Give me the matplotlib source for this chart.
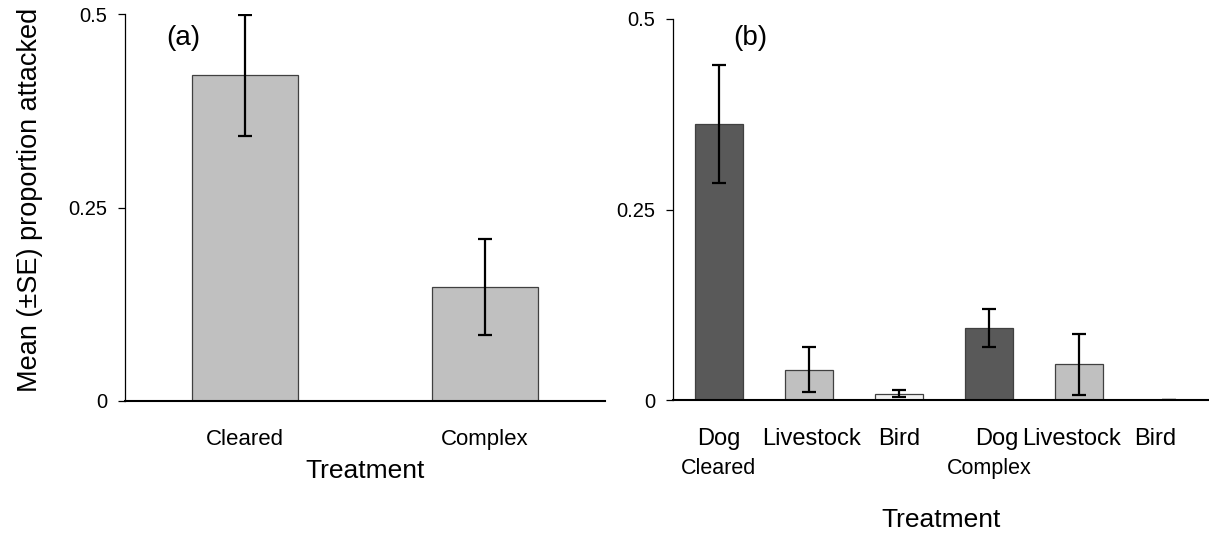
import matplotlib
matplotlib.use("Agg")
import matplotlib.pyplot as plt

plt.rcParams['font.family'] = ['Liberation Sans', 'DejaVu Sans']

# ---- panel (a) data ----
treat_a = ['Cleared', 'Complex']
mean_a = [0.421, 0.147]
se_a = [0.078, 0.062]

# ---- panel (b) data ----
pred_b = ['Dog', 'Livestock', 'Bird', 'Dog', 'Livestock', 'Bird']
group_b = ['Cleared', 'Complex']
mean_b = [0.362, 0.040, 0.0085, 0.095, 0.047, 0.0]
se_b = [0.077, 0.029, 0.0045, 0.025, 0.040, 0.0]
color_b = ['#595959', '#c0c0c0', '#f2f2f2', '#595959', '#c0c0c0', '#f2f2f2']
yticks = [0, 0.25, 0.5]
ytick_labels = ['0', '0.25', '0.5']

W, H = 1209, 537
fig = plt.figure(figsize=(W / 100, H / 100), dpi=100)

def px_axes(x0, x1, ytop, ybot):
    return fig.add_axes([x0 / W, 1 - ybot / H, (x1 - x0) / W, (ybot - ytop) / H])

def style(ax):
    ax.spines['top'].set_visible(False)
    ax.spines['right'].set_visible(False)
    ax.spines['left'].set_linewidth(0.9)
    ax.spines['bottom'].set_linewidth(1.5)
    ax.set_ylim(0, 0.5)
    ax.set_yticks(yticks)
    ax.set_yticklabels(ytick_labels, fontsize=14.5)
    ax.tick_params(axis='y', direction='out', length=5, width=0.9, pad=8)
    ax.tick_params(axis='x', length=0, pad=20)

err_kw = dict(fmt='none', ecolor='black', elinewidth=1.6, capsize=4.7, capthick=1.6)

# ---- (a) ----
ax1 = px_axes(125, 605, 14, 401)
xa = list(range(len(treat_a)))
ax1.bar(xa, mean_a, width=0.44, color='#c0c0c0', edgecolor='#404040', linewidth=0.9, zorder=2)
ax1.errorbar(xa, mean_a, yerr=se_a, zorder=3, **err_kw)
style(ax1)
ax1.set_xlim(-0.5, 1.5)
ax1.set_xticks(xa)
ax1.set_xticklabels(treat_a, fontsize=16)
ax1.set_xlabel('Treatment', fontsize=19, labelpad=7)

# ---- (b) ----
ax2 = px_axes(673, 1209, 19, 400)
xb = list(range(len(pred_b)))
ax2.bar(xb, mean_b, width=0.53, color=color_b, edgecolor='#404040', linewidth=0.9, zorder=2)
ax2.errorbar(xb, mean_b, yerr=se_b, zorder=3, **err_kw)
style(ax2)
ax2.set_xlim(-0.51, 5.44)
# labels were typed as one spaced line in the original, so nudge them
ax2.set_xticks([0, 1.03, 2, 3.08, 3.91, 4.84])
ax2.set_xticklabels(pred_b, fontsize=17)
for i, g in enumerate(group_b):
    ax2.text(i * 3, -0.09, g, fontsize=15.5, ha='center', va='center')
ax2.set_xlabel('Treatment', fontsize=19, labelpad=42)

fig.text(30 / W, 1 - 200 / H, 'Mean (±SE) proportion attacked', rotation=90,
         fontsize=19.5, ha='center', va='center')
fig.text(183 / W, 1 - 38 / H, '(a)', fontsize=20, ha='center', va='center')
fig.text(750 / W, 1 - 38 / H, '(b)', fontsize=20, ha='center', va='center')

fig.savefig('out.png', dpi=100)
